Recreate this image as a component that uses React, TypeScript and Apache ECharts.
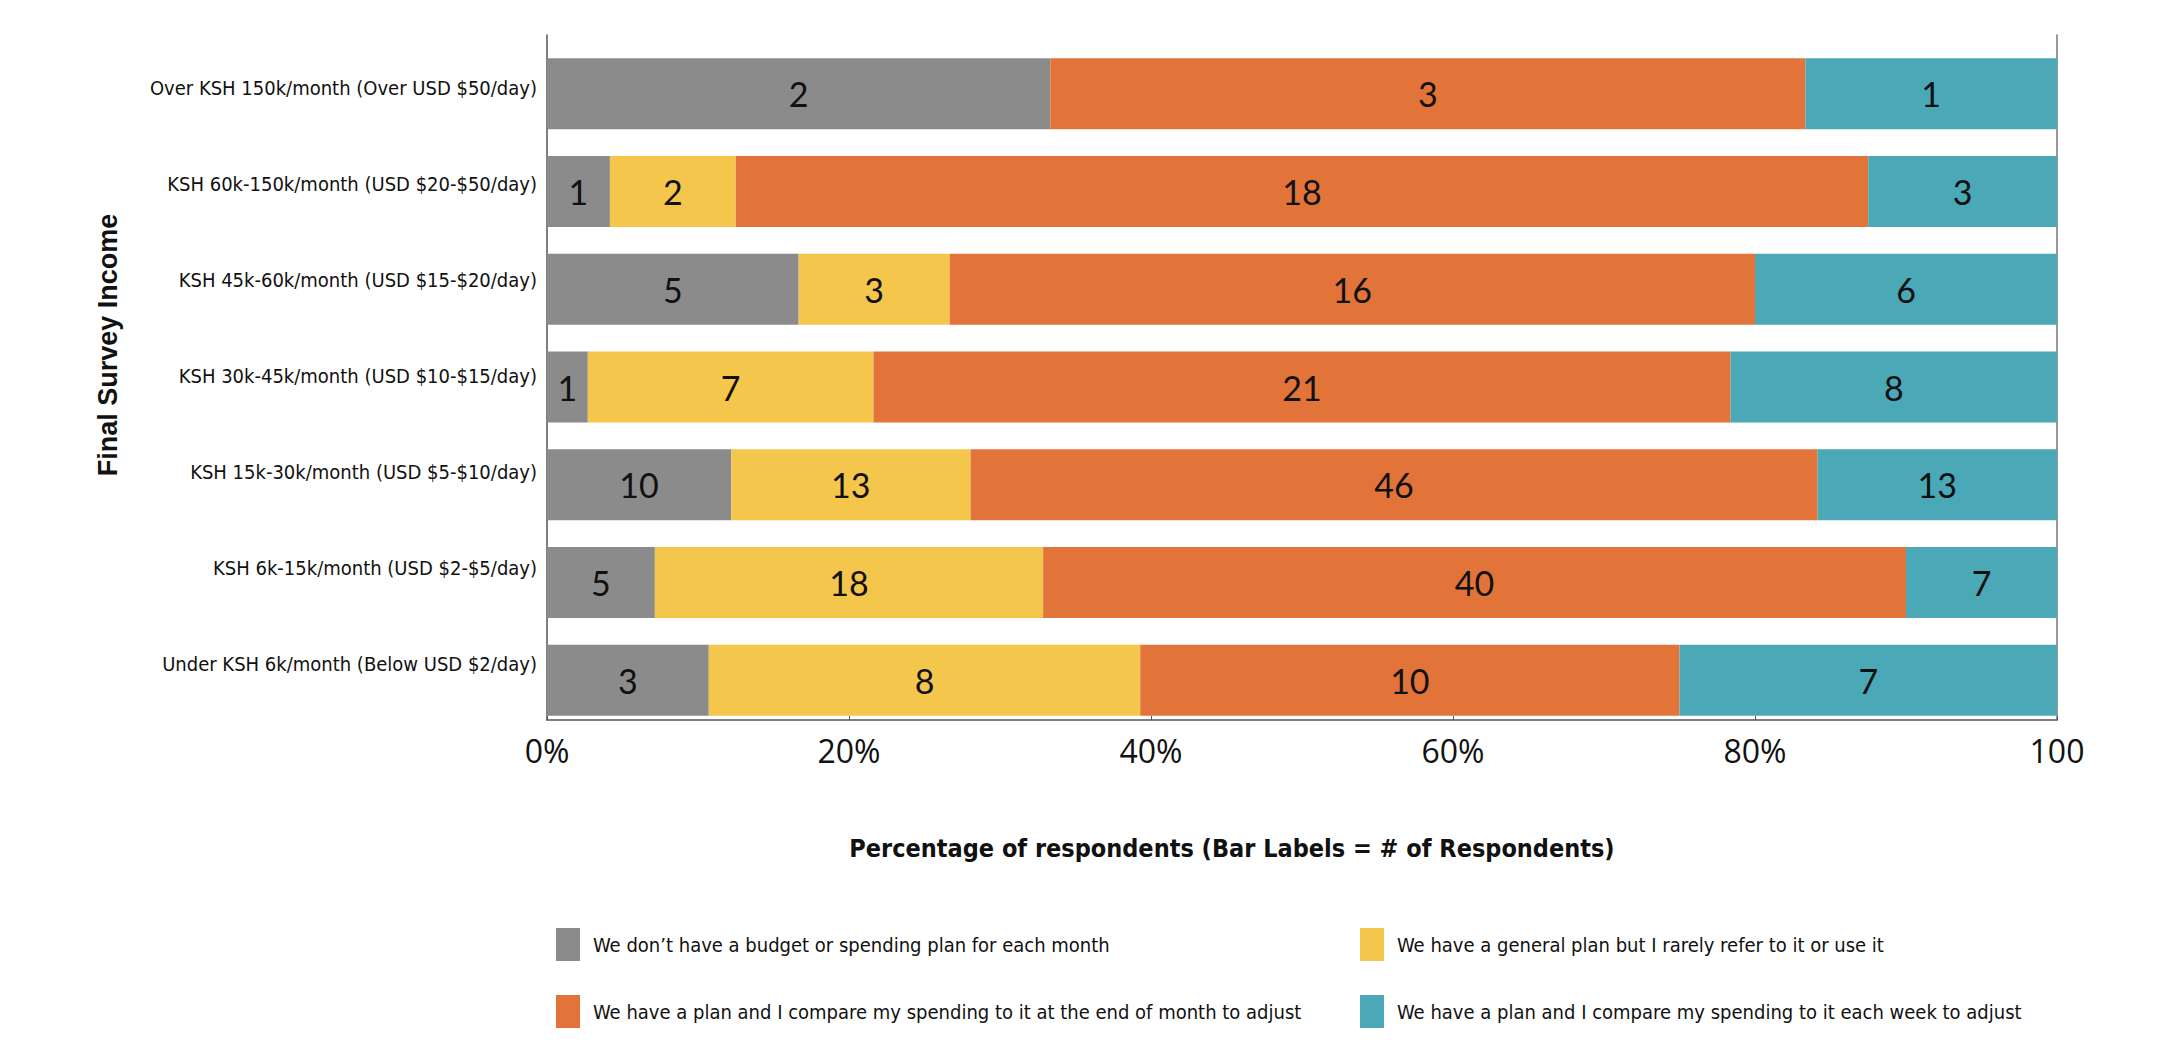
import React, { useEffect, useRef } from "react";
import * as echarts from "echarts";

const categories = [
  "Over KSH 150k/month (Over USD $50/day)",
  "KSH 60k-150k/month (USD $20-$50/day)",
  "KSH 45k-60k/month (USD $15-$20/day)",
  "KSH 30k-45k/month (USD $10-$15/day)",
  "KSH 15k-30k/month (USD $5-$10/day)",
  "KSH 6k-15k/month (USD $2-$5/day)",
  "Under KSH 6k/month (Below USD $2/day)",
];

const seriesNames = [
  "We don\u2019t have a budget or spending plan for each month",
  "We have a general plan but I rarely refer to it or use it",
  "We have a plan and I compare my spending to it at the end of month to adjust",
  "We have a plan and I compare my spending to it each week to adjust",
];

const noBudget = [2, 1, 5, 1, 10, 5, 3];
const generalPlan = [0, 2, 3, 7, 13, 18, 8];
const monthlyCompare = [3, 18, 16, 21, 46, 40, 10];
const weeklyCompare = [1, 3, 6, 8, 13, 7, 7];

const colors = ["#8b8b8c", "#f5c64c", "#e2743a", "#4aa8b7"];

const CAT_FONT = '"Liberation Sans Narrow", "DejaVu Sans Condensed", "Liberation Sans", sans-serif';

export default function App() {
  const ref = useRef<HTMLDivElement>(null);
  useEffect(() => {
    document.body.style.margin = "0";
    const chart = echarts.init(ref.current!, null, { renderer: "svg" });
    const counts = [noBudget, generalPlan, monthlyCompare, weeklyCompare];
    const totals = categories.map((_, i) => counts.reduce((s, arr) => s + arr[i], 0));
    const series = counts.map((arr, si) => ({
      name: seriesNames[si],
      type: "bar",
      stack: "total",
      xAxisIndex: 0,
      yAxisIndex: 0,
      barWidth: 71,
      itemStyle: { color: colors[si] },
      label: {
        show: true,
        position: "inside",
        color: "#111",
        fontFamily: "Lato, sans-serif",
        fontSize: 34,
        formatter: (p: any) => (arr[p.dataIndex] ? String(arr[p.dataIndex]) : ""),
      },
      data: arr.map((v, i) => (v / totals[i]) * 100),
    }));
    const gridX = { left: 547, width: 1510 };
    const legendCommon = {
      orient: "vertical",
      top: 923,
      itemWidth: 24,
      itemHeight: 33,
      itemGap: 34,
      icon: "rect",
      textStyle: { fontFamily: CAT_FONT, fontSize: 20, color: "#111", padding: [0, 0, 0, 8] },
      selectedMode: false,
    };
    chart.setOption({
      animation: false,
      grid: [
        { ...gridX, top: 45, height: 684 },
        { ...gridX, top: 35, height: 685 },
        { ...gridX, top: 39.5, height: 673 },
      ],
      xAxis: [
        { type: "value", gridIndex: 0, min: 0, max: 100, show: false },
        {
          type: "value",
          gridIndex: 1,
          min: 0,
          max: 100,
          interval: 20,
          axisLine: { show: true, lineStyle: { color: "#555", width: 1.5 } },
          axisTick: { show: true, inside: true, length: 4, lineStyle: { color: "#555" } },
          splitLine: { show: false },
          axisLabel: {
            color: "#111",
            fontFamily: '"Open Sans", sans-serif',
            fontSize: 32,
            margin: 14,
            formatter: (v: number) => (v === 100 ? "100" : v + "%"),
          },
        },
        { type: "value", gridIndex: 2, min: 0, max: 100, show: false },
      ],
      yAxis: [
        { type: "category", gridIndex: 0, inverse: true, data: categories, show: false },
        {
          type: "category",
          gridIndex: 1,
          inverse: true,
          data: categories,
          axisLine: { show: true, lineStyle: { color: "#555", width: 1.5 } },
          axisTick: { show: false },
          axisLabel: { show: false },
        },
        {
          type: "value",
          gridIndex: 1,
          position: "right",
          min: 0,
          max: 1,
          axisLine: { show: true, lineStyle: { color: "#777", width: 1.5 } },
          axisTick: { show: false },
          axisLabel: { show: false },
          splitLine: { show: false },
        },
        {
          type: "category",
          gridIndex: 2,
          inverse: true,
          data: categories,
          axisLine: { show: false },
          axisTick: { show: false },
          axisLabel: {
            color: "#111",
            fontFamily: CAT_FONT,
            fontSize: 20,
            margin: 10,
          },
        },
      ],
      legend: [
        { ...legendCommon, left: 551, data: [seriesNames[0], seriesNames[2]] },
        { ...legendCommon, left: 1355, data: [seriesNames[1], seriesNames[3]] },
      ],
      graphic: [
        {
          type: "text",
          x: 1232,
          y: 848,
          style: {
            text: "Percentage of respondents (Bar Labels = # of Respondents)",
            fill: "#111",
            font: 'bold 25px "Liberation Sans Narrow", "DejaVu Sans Condensed", sans-serif',
            textAlign: "center",
            textVerticalAlign: "middle",
          },
        },
        {
          type: "text",
          x: 108,
          y: 345,
          rotation: Math.PI / 2,
          style: {
            text: "Final Survey Income",
            fill: "#111",
            font: 'bold 27px "Liberation Sans", Arial, sans-serif',
            textAlign: "center",
            textVerticalAlign: "middle",
          },
        },
      ],
      series,
    });
    return () => chart.dispose();
  }, []);
  return <div ref={ref} style={{ width: 2178, height: 1050 }} />;
}
